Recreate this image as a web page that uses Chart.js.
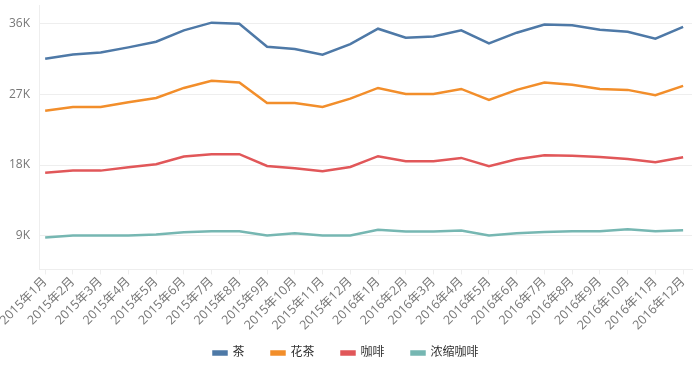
<!DOCTYPE html>
<html>
<head>
<meta charset="utf-8">
<script src="https://cdn.jsdelivr.net/npm/chart.js@4/dist/chart.umd.min.js"></script>
<style>
  html, body { margin: 0; padding: 0; background: #fff; }
  #wrap { width: 700px; height: 365px; }
</style>
</head>
<body>
<div id="wrap"><canvas id="chart"></canvas></div>
<script>
/////////////// data ///////////////
var months = ['2015年1月', '2015年2月', '2015年3月', '2015年4月', '2015年5月', '2015年6月',
  '2015年7月', '2015年8月', '2015年9月', '2015年10月', '2015年11月', '2015年12月',
  '2016年1月', '2016年2月', '2016年3月', '2016年4月', '2016年5月', '2016年6月',
  '2016年7月', '2016年8月', '2016年9月', '2016年10月', '2016年11月', '2016年12月'];

var tea = [31550, 32100, 32350, 33000, 33720, 35170, 36150, 36020, 33080, 32780, 32060, 33420,
  35380, 34230, 34400, 35170, 33500, 34870, 35900, 35810, 35250, 35000, 34100, 35600];
var flowerTea = [24930, 25400, 25400, 26000, 26550, 27830, 28730, 28510, 25900, 25900, 25400, 26460,
  27830, 27060, 27060, 27700, 26300, 27580, 28510, 28220, 27700, 27580, 26890, 28100];
var coffee = [17030, 17290, 17290, 17720, 18100, 19080, 19380, 19380, 17890, 17590, 17210, 17760,
  19130, 18490, 18490, 18910, 17850, 18750, 19260, 19170, 19040, 18780, 18360, 19000];
var espresso = [8760, 9020, 9020, 9020, 9150, 9440, 9570, 9570, 9020, 9310, 9020, 9020,
  9740, 9530, 9530, 9660, 9020, 9310, 9480, 9570, 9570, 9830, 9570, 9700];

var yTicks = [9000, 18000, 27000, 36000];

/////////////// chart ///////////////
var font = '"Open Sans", "Noto Sans CJK SC", sans-serif';

// month index -> {x, y} so the x axis can run a little past the first/last point
function toPoints(values) {
  return values.map(function (v, i) { return { x: i, y: v }; });
}

function line(label, data, color) {
  return {
    label: label,
    data: toPoints(data),
    borderColor: color,
    backgroundColor: color,
    borderWidth: 2.5,
    pointRadius: 0,
    pointHoverRadius: 0,
    tension: 0,
    fill: false
  };
}

// legend box: move it down near the bottom edge (the legend clips to its box)
var legendShift = {
  id: 'legendShift',
  afterLayout: function (chart) {
    var lg = chart.legend;
    lg.top = 320;
    lg.bottom = chart.height;
  }
};

var ctx = document.getElementById('chart').getContext('2d');
var chart = new Chart(ctx, {
  type: 'line',
  data: {
    datasets: [
      line('茶', tea, '#4e79a7'),
      line('花茶', flowerTea, '#f28e2b'),
      line('咖啡', coffee, '#e15759'),
      line('浓缩咖啡', espresso, '#76b7b2')
    ]
  },
  plugins: [legendShift],
  options: {
    responsive: true,
    maintainAspectRatio: false,
    animation: false,
    layout: { padding: { left: 0, right: 8, top: 0, bottom: 12 } },
    plugins: {
      tooltip: { enabled: false },
      legend: {
        position: 'bottom',
        maxHeight: 20,
        labels: {
          boxWidth: 13,
          boxHeight: 3,
          padding: 27,
          color: '#333',
          font: { family: font, size: 12 }
        }
      }
    },
    scales: {
      x: {
        type: 'linear',
        min: -0.22,
        max: 23.32,
        afterBuildTicks: function (axis) {
          axis.ticks = months.map(function (m, i) { return { value: i }; });
        },
        grid: {
          drawOnChartArea: false,
          color: '#eeeeee',
          tickLength: 5
        },
        border: { color: '#eeeeee' },
        ticks: {
          autoSkip: false,
          maxRotation: 45,
          minRotation: 45,
          color: '#777',
          padding: 0,
          font: { family: font, size: 12.5 },
          callback: function (v) { return months[v]; }
        }
      },
      y: {
        min: 4700,
        max: 38400,
        afterBuildTicks: function (axis) {
          axis.ticks = yTicks.map(function (v) { return { value: v }; });
        },
        afterFit: function (scale) {
          scale.paddingTop = 5;
        },
        grid: {
          color: '#eeeeee',
          drawTicks: false
        },
        border: { color: '#eeeeee' },
        ticks: {
          color: '#777',
          padding: 9,
          font: { family: font, size: 12 },
          callback: function (v) { return (v / 1000) + 'K'; }
        }
      }
    }
  }
});
</script>
</body>
</html>
